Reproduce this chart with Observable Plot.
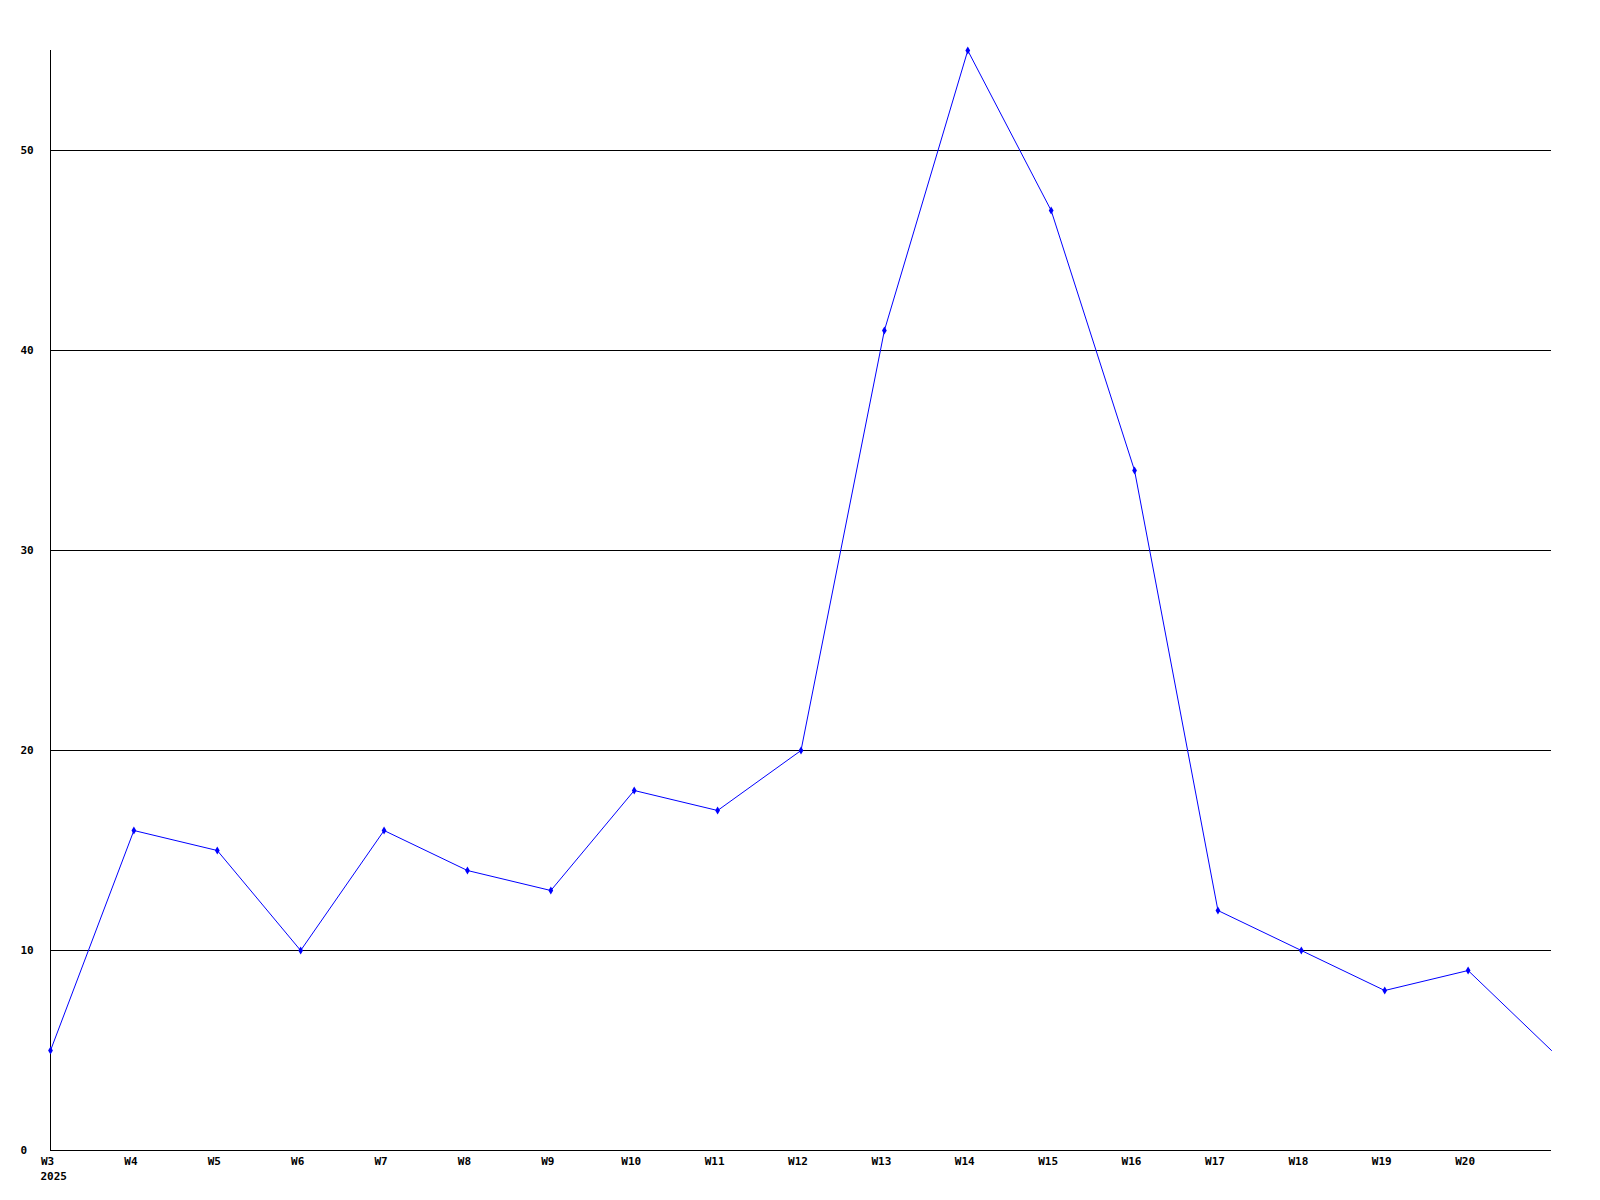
<!DOCTYPE html>
<html>
<head>
<meta charset="utf-8">
<script src="https://cdn.jsdelivr.net/npm/d3@7"></script>
<script src="https://cdn.jsdelivr.net/npm/@observablehq/plot@0.6"></script>
<style>
  html, body { margin: 0; padding: 0; background: #fff; }
  #chart svg { display: block; }
</style>
</head>
<body>
<div id="chart"></div>
<script>
const weeks = ["W3","W4","W5","W6","W7","W8","W9","W10","W11","W12","W13","W14","W15","W16","W17","W18","W19","W20","W21"];
const values = [5,16,15,10,16,14,13,18,17,20,41,55,47,34,12,10,8,9,5];
const yTicks = [0,10,20,30,40,50];
const gridTicks = [10,20,30,40,50];
const yearLabel = "2025";

const data = weeks.map((w, i) => ({week: w, value: values[i]}));
const labeled = weeks.slice(0, -1);

const chart = Plot.plot({
  width: 1600,
  height: 1200,
  marginLeft: 50,
  marginRight: 49,
  marginTop: 50,
  marginBottom: 50,
  style: {fontFamily: "'DejaVu Sans Mono', monospace", fontSize: "11px", fontWeight: "bold", color: "#000", background: "#fff"},
  x: {type: "point", domain: weeks, padding: 0, round: false},
  y: {domain: [0, 55]},
  marks: [
    Plot.ruleY(gridTicks, {stroke: "#000", strokeWidth: 1}),
    Plot.ruleY([0], {stroke: "#000", strokeWidth: 1}),
    Plot.ruleX([weeks[0]], {stroke: "#000", strokeWidth: 1}),
    Plot.axisY({ticks: yTicks, tickSize: 0, tickPadding: 30, textAnchor: "start", fill: "#000", label: null}),
    Plot.axisX({ticks: labeled, tickSize: 0, tickPadding: 7, dx: -3, fill: "#000", label: null}),
    Plot.text([weeks[0]], {x: d => d, frameAnchor: "bottom", text: () => yearLabel, textAnchor: "start", lineAnchor: "top", dx: -10, dy: 22, fill: "#000"}),
    Plot.line(data, {x: "week", y: "value", stroke: "#0000ff", strokeWidth: 1}),
    Plot.dot(data.slice(0, -1), {x: "week", y: "value", symbol: "diamond", r: 2.5, fill: "#0000ff", stroke: "none"})
  ]
});
document.getElementById("chart").appendChild(chart);
</script>
</body>
</html>
